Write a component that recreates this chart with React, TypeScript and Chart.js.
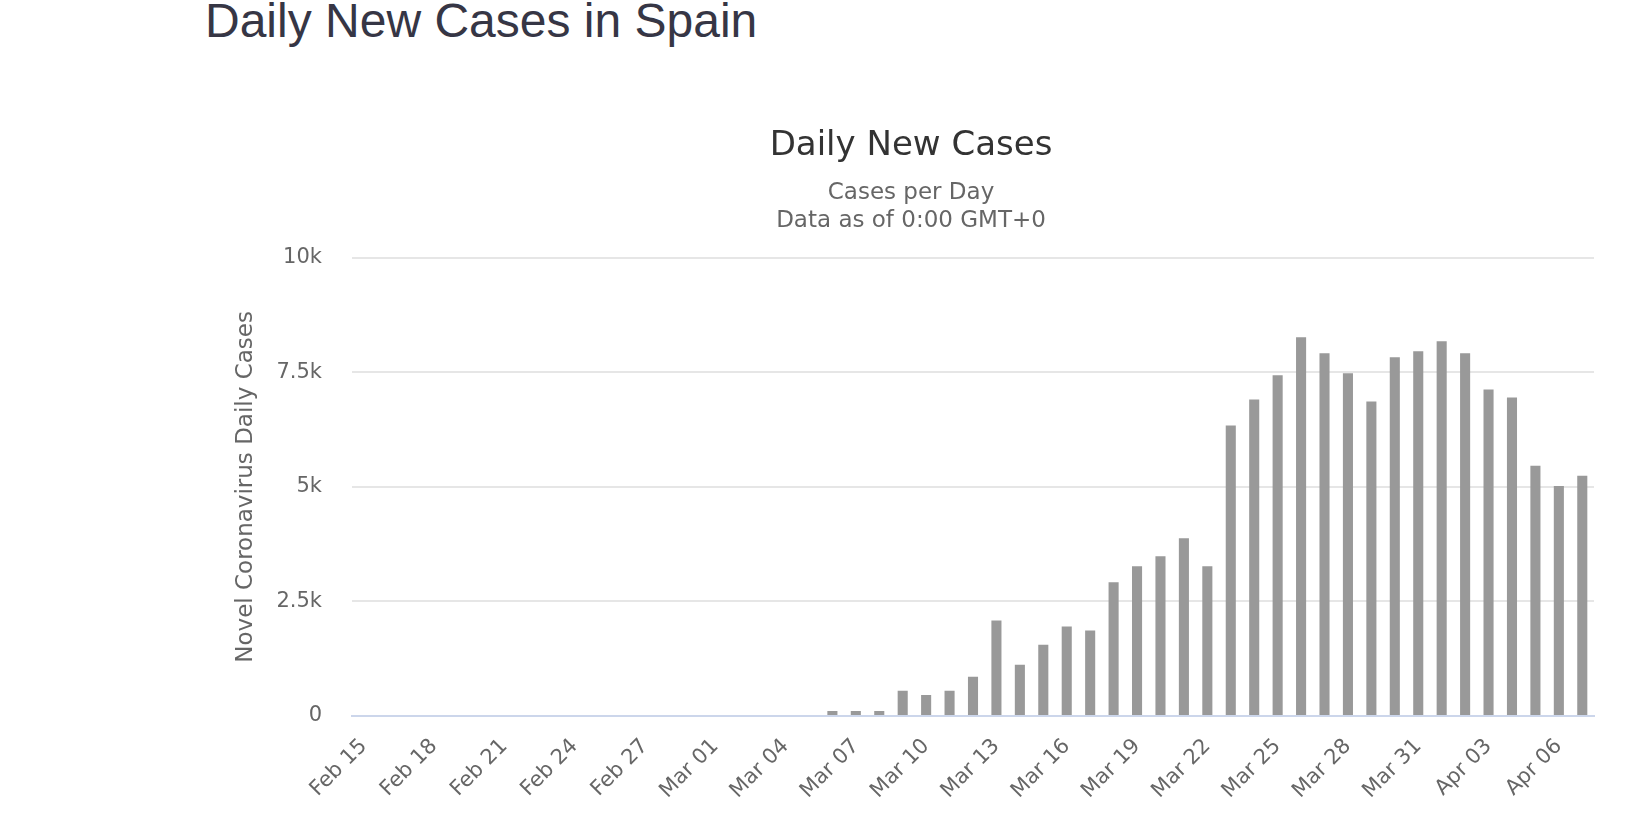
import { useEffect, useRef } from "react";
import { Chart, registerables } from "chart.js";

Chart.register(...registerables);

const dates = [
  "Feb 15", "Feb 16", "Feb 17", "Feb 18", "Feb 19", "Feb 20", "Feb 21",
  "Feb 22", "Feb 23", "Feb 24", "Feb 25", "Feb 26", "Feb 27", "Feb 28",
  "Feb 29", "Mar 01", "Mar 02", "Mar 03", "Mar 04", "Mar 05", "Mar 06",
  "Mar 07", "Mar 08", "Mar 09", "Mar 10", "Mar 11", "Mar 12", "Mar 13",
  "Mar 14", "Mar 15", "Mar 16", "Mar 17", "Mar 18", "Mar 19", "Mar 20",
  "Mar 21", "Mar 22", "Mar 23", "Mar 24", "Mar 25", "Mar 26", "Mar 27",
  "Mar 28", "Mar 29", "Mar 30", "Mar 31", "Apr 01", "Apr 02", "Apr 03",
  "Apr 04", "Apr 05", "Apr 06", "Apr 07",
];

const dailyCases = [
  0, 0, 0, 0, 0, 0, 0,
  0, 0, 0, 0, 0, 0, 0,
  0, 0, 0, 0, 0, 0, 110,
  110, 110, 550, 460, 550, 855, 2085,
  1120, 1557, 1952, 1864, 2917, 3268, 3487,
  3882, 3268, 6338, 6908, 7434, 8268, 7917,
  7478, 6864, 7829, 7961, 8180, 7917, 7127,
  6952, 5461, 5022, 5241,
];

const yTicks = [0, 2500, 5000, 7500, 10000];

export default function App() {
  const chartRef = useRef<HTMLCanvasElement>(null);

  useEffect(() => {
    if (!chartRef.current) return;
    Chart.defaults.font.family = "DejaVu Sans";

    const chart = new Chart(chartRef.current, {
      type: "bar",
      data: {
        labels: dates,
        datasets: [
          {
            label: "Daily Cases",
            data: dailyCases,
            backgroundColor: "#999999",
            barPercentage: 0.43,
            categoryPercentage: 1,
          },
        ],
      },
      options: {
        responsive: false,
        animation: false,
        layout: { padding: { left: 28, right: 28, top: 0, bottom: 0 } },
        plugins: {
          legend: { display: false },
          tooltip: { enabled: false },
          title: {
            display: true,
            text: "Daily New Cases",
            color: "#333333",
            font: { size: 34, weight: "normal", lineHeight: 1.2 },
            padding: { top: 26, bottom: 0 },
          },
          subtitle: {
            display: true,
            text: ["Cases per Day", "Data as of 0:00 GMT+0"],
            color: "#666666",
            font: { size: 23, lineHeight: 28 / 23 },
            padding: { top: 12, bottom: 23 },
          },
        },
        scales: {
          x: {
            grid: { display: false },
            border: { color: "#ccd6eb", width: 2 },
            // fixed height so the plot bottom sits where the original has it
            afterFit: (axis) => {
              axis.height = 97;
            },
            ticks: {
              autoSkip: false,
              maxRotation: 45,
              minRotation: 45,
              padding: 10,
              color: "#666666",
              font: { size: 21 },
              callback: (_v, i) => (i % 3 === 0 ? dates[i] : ""),
            },
          },
          y: {
            min: 0,
            max: 10000,
            afterBuildTicks: (axis) => {
              axis.ticks = yTicks.map((value) => ({ value }));
            },
            afterFit: (axis) => {
              axis.width = 124;
            },
            grid: { color: "#e6e6e6", lineWidth: 2, drawTicks: false },
            border: { display: false },
            ticks: {
              padding: 30,
              color: "#666666",
              font: { size: 21 },
              callback: (v) => {
                const n = Number(v);
                return n === 0 ? "0" : `${n / 1000}k`;
              },
            },
            title: {
              display: true,
              text: "Novel Coronavirus Daily Cases",
              color: "#666666",
              font: { size: 23, lineHeight: 1.2 },
              padding: { top: 4, bottom: 4 },
            },
          },
        },
      },
    });

    return () => chart.destroy();
  }, []);

  return (
    <div
      style={{
        position: "absolute",
        left: 0,
        top: 0,
        width: 1626,
        height: 813,
        overflow: "hidden",
        background: "#ffffff",
      }}
    >
      <div
        style={{
          position: "absolute",
          left: 205,
          top: -3,
          fontFamily: "'Liberation Sans', Arial, sans-serif",
          fontSize: 48,
          lineHeight: "48px",
          color: "#363645",
          whiteSpace: "nowrap",
        }}
      >
        Daily New Cases in Spain
      </div>
      <canvas
        ref={chartRef}
        width={1422}
        height={713}
        style={{ position: "absolute", left: 200, top: 100 }}
      />
    </div>
  );
}
